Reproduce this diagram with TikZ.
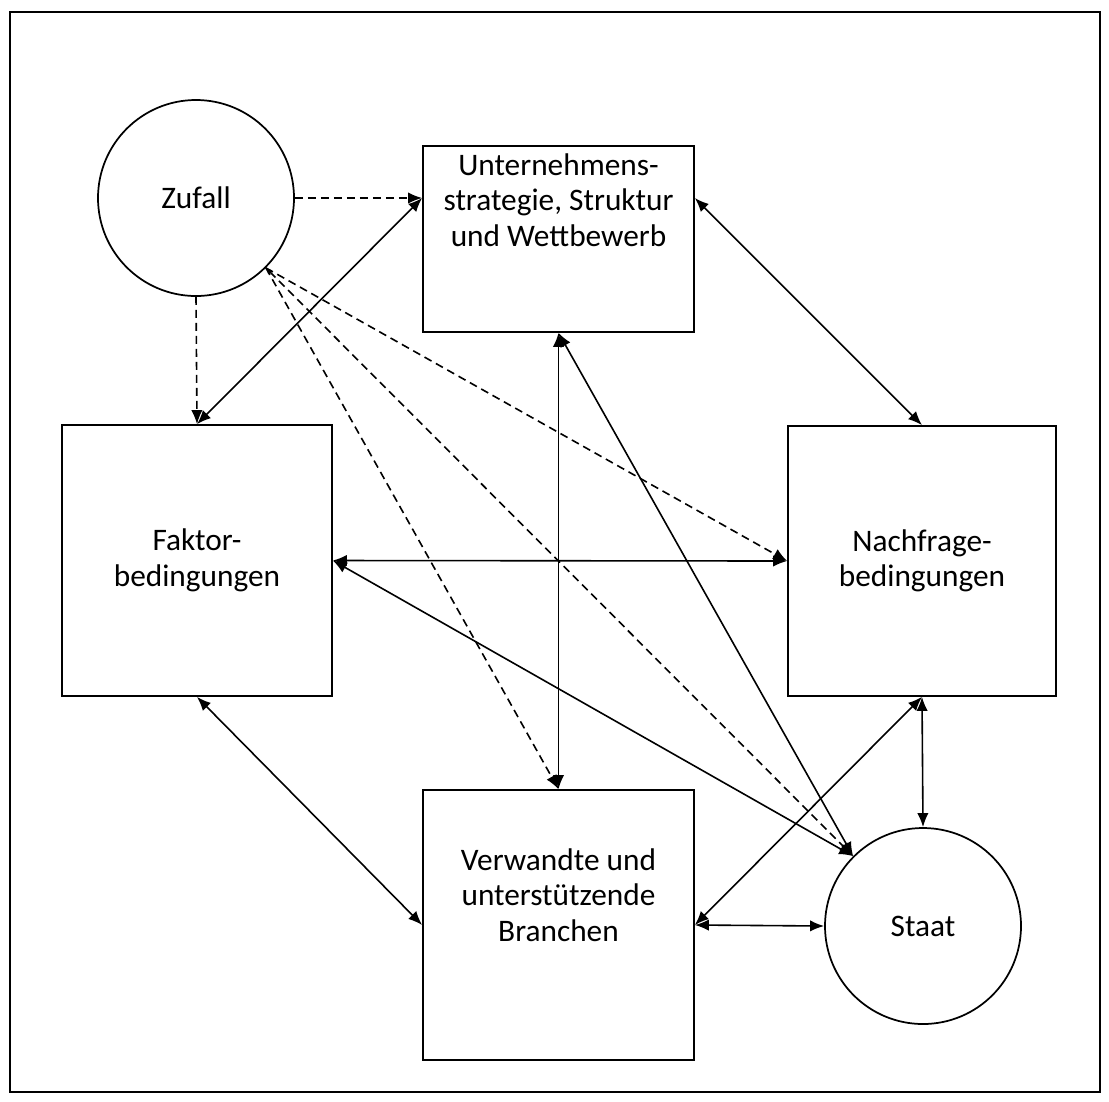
\documentclass[tikz,border=0pt]{standalone}
\usepackage{fontspec}
\setmainfont{Carlito}
\usetikzlibrary{arrows.meta,calc}
\begin{document}
\begin{tikzpicture}[x=0.75pt,y=-0.75pt,
  box/.style={draw, line width=1.3pt, rectangle, inner sep=0pt},
  circ/.style={draw, line width=1.3pt, circle, inner sep=0pt, minimum size=196*0.75pt},
  lbl/.style={align=center, font=\fontsize{23.5}{26.6}\selectfont},
  tipb/.tip={Latex[length=10.5pt,width=8.5pt]},
  link/.style={line width=1.2pt, tipb-tipb},
  chance/.style={line width=1.2pt, dash pattern=on 6pt off 3.75pt, -tipb},
]
\useasboundingbox (0,0) rectangle (1109,1101);
\node[draw, line width=1.3pt, minimum width=1090*0.75pt, minimum height=1080*0.75pt, inner sep=0pt] (frame) at (555,552) {};

\node[circ, lbl] (zufall) at (196,198) {Zufall};
\node[box, minimum width=271*0.75pt, minimum height=186*0.75pt,
  label={[lbl, yshift=39*0.75pt]center:{Unternehmens-\\strategie, Struktur\\und Wettbewerb}}] (u) at (558.5,239) {};
\node[box, lbl, minimum width=270*0.75pt, minimum height=271*0.75pt] (f) at (197,560.5) {Faktor-\\bedingungen};
\node[box, lbl, minimum width=268*0.75pt, minimum height=270*0.75pt] (n) at (922,561) {Nachfrage-\\bedingungen};
\node[box, minimum width=271*0.75pt, minimum height=270*0.75pt,
  label={[lbl, yshift=30*0.75pt]center:{Verwandte und\\unterstützende\\Branchen}}] (v) at (558.5,925) {};
\node[circ, lbl] (staat) at (923,926) {Staat};

% chance (dashed)
\draw[chance] (zufall.east) -- (u.west |- zufall.east);
\draw[chance] (zufall.south) -- (f.north);
\draw[chance] (zufall.-45) -- (n.west);
\draw[chance] (zufall.-45) -- (v.north);
\draw[chance, {Latex[length=4.5pt,width=4.5pt]}-tipb] (zufall.-45) -- (staat.135);

% mutual links
\draw[link] (f.north) -- (u.west |- zufall.east);
\draw[link] (u.east |- zufall.east) -- (n.north);
\draw[link] (u.south) -- (v.north);
\draw[link] (u.south) -- (staat.135);
\draw[link] (f.east) -- (n.west);
\draw[link] (f.east) -- (staat.135);
\draw[link] (f.south) -- (v.west);
\draw[link] (n.south) -- (v.east);
\draw[link] (n.south) -- (staat.north);
\draw[link] (v.east) -- (staat.west);
\end{tikzpicture}
\end{document}
